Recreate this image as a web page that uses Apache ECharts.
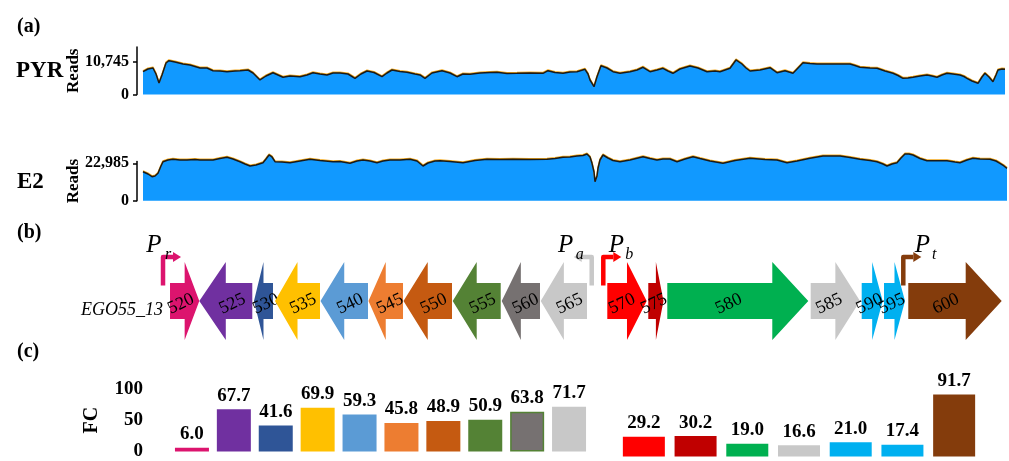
<!DOCTYPE html>
<html><head><meta charset="utf-8">
<script src="https://cdn.jsdelivr.net/npm/echarts@6/dist/echarts.min.js"></script>
<style>html,body{margin:0;padding:0;background:#fff}#c{width:1009px;height:461px}</style>
</head><body><div id="c"></div>
<script>
// ---------- DATA ----------
// (a) read coverage, position in bp along the locus
const pyrPos = [0,156,312,406,500,594,719,812,1000,1250,1469,1781,2000,2188,2406,2625,2875,3031,3281,3438,3656,3844,4062,4219,4375,4594,4906,5125,5312,5531,5750,5938,6156,6406,6625,6812,7000,7219,7469,7625,7781,8031,8250,8500,8656,8812,9031,9344,9594,9812,10000,10219,10531,10844,11062,11375,11688,12094,12500,12656,12875,13125,13344,13562,13812,13906,13969,14094,14188,14312,14500,14688,14906,15062,15219,15438,15625,15844,16062,16250,16406,16562,16781,17094,17344,17625,17875,18031,18188,18344,18531,18719,18844,18969,19281,19594,19812,20062,20312,20469,20625,20844,21062,21562,22094,22250,22406,22719,22938,23188,23438,23594,23750,23906,24062,24281,24500,24656,24812,24969,25125,25312,25531,25656,25750,25906,26094,26219,26312,26438,26562,26656,26719,26844,26938];
const pyrReads = [7538,8430,8761,6777,3802,6447,10414,11174,10745,10083,9753,8761,8761,7868,7769,7538,7769,7868,8100,7108,4794,6116,7207,6447,5686,6116,5885,6447,7207,6777,6447,7108,7108,6777,5356,6777,7769,7273,5885,7108,8100,7604,7339,6777,6447,5356,7108,7868,7108,5885,6777,6678,7108,7273,7339,6943,7009,7108,7009,7868,7273,7009,7439,7538,8331,6777,4794,2579,5885,9521,8761,7538,7009,7273,7538,8100,8992,7538,8100,8662,7769,7009,8430,9422,8761,7538,7769,7538,8100,8662,11406,10083,8761,7769,8100,8860,7207,7868,7009,8761,10513,10249,10083,10083,10083,9587,8992,8761,8662,7769,7009,6281,5356,5455,5686,6116,6447,6116,5686,6447,7009,6777,6447,5951,5356,4463,3703,5786,7009,5786,4232,6447,8100,8430,8331];
const e2Pos = [0,156,281,375,469,562,625,781,938,1156,1375,1625,1781,2000,2188,2406,2625,2812,3031,3188,3344,3531,3750,3844,3938,4031,4125,4344,4594,4906,5219,5531,5938,6156,6469,6688,6875,7094,7312,7500,7719,8031,8344,8562,8750,8906,9125,9281,9594,10000,10375,10750,11156,11562,12094,12625,12875,13125,13344,13562,13750,13875,13969,14031,14094,14125,14188,14219,14281,14375,14531,14688,14906,15219,15625,15844,16062,16250,16469,16688,16938,17188,17406,17719,18125,18500,18969,19438,19812,20125,20438,20844,21250,21781,22094,22406,22719,22938,23125,23250,23406,23562,23688,23812,23938,24062,24281,24500,24812,25125,25375,25531,25750,25938,26156,26469,26656,26781,26906,27000];
const e2Reads = [17823,16410,14750,15181,16840,21327,23969,25014,25444,25014,25014,25322,25014,25014,25014,25936,26674,25629,23969,22556,21327,21941,23355,25629,28087,26858,23969,23785,23355,24400,25444,24707,23969,24092,22985,24400,25014,24400,23355,24400,25014,25014,25444,24400,21327,23170,24400,24584,24092,23355,24707,25444,25322,25444,25322,25444,25936,26674,26858,27473,27780,28702,26858,22985,17639,11677,15181,19913,25014,28087,26243,24707,23969,25014,27042,25936,25014,25629,25629,23969,25629,27042,25936,24400,22985,24707,26059,25322,25014,23355,24400,26059,27473,27473,26551,25444,24707,23969,22556,21327,22556,23355,26243,28702,28702,28087,25936,24584,24584,24584,23785,23355,25014,26059,25629,25444,24400,22985,21327,19913];
const pyrTick = 10745;
const e2Tick = 22985;

// (b) gene map
const geneIds    = ['520','525','530','535','540','545','550','555','560','565','570','575','580','585','590','595','600'];
const geneStart  = [938,1853,3562,4219,5640,7140,8234,9772,11303,12522,14603,15884,16478,20959,22553,23250,24009];
const geneEnd    = [1853,3509,4156,5625,7125,8219,9750,11272,12500,13969,15834,16359,20884,22500,23209,23906,26928];
const geneStrand = [1,-1,-1,-1,-1,-1,-1,-1,-1,-1,1,1,1,1,1,1,1];
const locusName = 'EGO55_13';
const promoterSub = ['r','a','b','t'];
const promoterPos = [719,14116,14478,23853];
const promoterDir = [1,-1,1,1];

// (c) fold change
const fcLeftGenes  = ['520','525','530','535','540','545','550','555','560','565'];
const fcLeft       = [6.0,67.7,41.6,69.9,59.3,45.8,48.9,50.9,63.8,71.7];
const fcRightGenes = ['570','575','580','585','590','595','600'];
const fcRight      = [29.2,30.2,19.0,16.6,21.0,17.4,91.7];

// ---------- STYLE ----------
const GENE_COLORS = {
  '520':'#DC146E','525':'#7030A0','530':'#2F5597','535':'#FFC000','540':'#5B9BD5',
  '545':'#ED7D31','550':'#C55A11','555':'#548235','560':'#767171','565':'#C8C8C8',
  '570':'#FF0000','575':'#C00000','580':'#00B050','585':'#C8C8C8','590':'#00B0F0',
  '595':'#00B0F0','600':'#843C0C'
};
const BAR_BORDER = {'560':'#548235'};
const PROMOTER_COLORS = ['#DC146E','#C8C8C8','#FF0000','#843C0C'];
const PROMOTER_LABEL_DX = [[-9,5],[-26,-12],[13,26],[19,31]];
const SERIF = '"Liberation Serif","Times New Roman",serif';
const AREA_BLUE = '#1199FF';

const chart = echarts.init(document.getElementById('c'), null, {renderer:'canvas'});

function covAxis(gridIndex, max, tick) {
  return {
    gridIndex, type:'value', min:0, max:max, interval:tick, offset:6, z:10,
    axisLine:{show:true, onZero:false, lineStyle:{color:'#000', width:1.5}},
    axisTick:{show:true, length:4, lineStyle:{color:'#000', width:1.5}},
    splitLine:{show:false},
    axisLabel:{show:true, showMaxLabel:false, margin:8, color:'#000',
      fontFamily:SERIF, fontWeight:'bold', fontSize:16,
      formatter: v => v === 0 ? '0' : Number(v).toLocaleString('en-US')},
    name:'Reads', nameLocation:'middle', nameGap:55, nameRotate:90, nameMoveOverlap:false,
    nameTextStyle:{color:'#000', fontFamily:SERIF, fontWeight:'bold', fontSize:17}
  };
}
function covSeries(idx, pos, reads) {
  return {
    type:'line', xAxisIndex:idx, yAxisIndex:idx, clip:false,
    data: pos.map((p,i)=>[p, reads[i]]),
    showSymbol:false, symbol:'none', silent:true,
    lineStyle:{color:'#1a1a1a', width:1.5, shadowColor:'#F2A81D', shadowOffsetY:-0.8, shadowBlur:0},
    areaStyle:{color:AREA_BLUE, opacity:1}
  };
}

const geneData = geneIds.map((id,i)=>[geneStart[i], geneEnd[i], geneStrand[i], i]);
const promoterData = promoterPos.map((p,i)=>[p, promoterDir[i], i]);

const option = {
  animation:false,
  backgroundColor:'#fff',
  grid:[
    {left:143, width:864, top:47, height:47.5},
    {left:143, width:864, top:161.5, height:39.2},
    {left:140, width:864, top:262, height:78},
    {left:171, width:419, top:389, height:67.5},
    {left:618, width:362, top:389, height:67.5}
  ],
  xAxis:[
    {gridIndex:0, type:'value', min:0, max:27000, show:false},
    {gridIndex:1, type:'value', min:0, max:27000, show:false},
    {gridIndex:2, type:'value', min:0, max:27000, show:false},
    {gridIndex:3, type:'category', data:fcLeftGenes, show:false},
    {gridIndex:4, type:'category', data:fcRightGenes, show:false}
  ],
  yAxis:[
    covAxis(0, 15703, pyrTick),
    covAxis(1, 24090, e2Tick),
    {gridIndex:2, type:'value', min:-1, max:1, show:false},
    {gridIndex:3, type:'value', min:0, max:100, interval:50,
      axisLine:{show:false}, axisTick:{show:false}, splitLine:{show:false},
      axisLabel:{margin:28, color:'#000', fontFamily:SERIF, fontWeight:'bold', fontSize:19},
      name:'FC', nameLocation:'middle', nameGap:69, nameRotate:90,
      nameTextStyle:{color:'#000', fontFamily:SERIF, fontWeight:'bold', fontSize:20}},
    {gridIndex:4, type:'value', min:0, max:100, interval:50, show:false}
  ],
  graphic:[
    {type:'text', left:17, top:17, style:{text:'(a)', font:'bold 20px '+SERIF, fill:'#000'}},
    {type:'text', left:17, top:223, style:{text:'(b)', font:'bold 20px '+SERIF, fill:'#000'}},
    {type:'text', left:17, top:342, style:{text:'(c)', font:'bold 20px '+SERIF, fill:'#000'}},
    {type:'text', left:16, top:60, style:{text:'PYR', font:'bold 23px '+SERIF, fill:'#000'}},
    {type:'text', left:17, top:171, style:{text:'E2', font:'bold 23px '+SERIF, fill:'#000'}},
    {type:'text', right:1009-163, top:301, style:{text:locusName, font:'italic 18px '+SERIF, fill:'#000'}}
  ],
  series:[
    covSeries(0, pyrPos, pyrReads),
    covSeries(1, e2Pos, e2Reads),
    {
      type:'custom', xAxisIndex:2, yAxisIndex:2, clip:false, silent:true,
      data: geneData,
      renderItem:(params, api)=>{
        const s = api.coord([api.value(0), 0]);
        const e = api.coord([api.value(1), 0]);
        const dir = api.value(2);
        const id = geneIds[api.value(3)];
        const cy = s[1];
        const len = e[0]-s[0];
        const head = Math.min(36, len*0.5);
        const bh = 18, hh = 39;
        let pts, bodyC;
        if (dir > 0) {
          const hb = e[0]-head;
          pts = [[s[0],cy-bh],[hb,cy-bh],[hb,cy-hh],[e[0],cy],[hb,cy+hh],[hb,cy+bh],[s[0],cy+bh]];
          bodyC = (s[0]+hb)/2;
        } else {
          const hb = s[0]+head;
          pts = [[e[0],cy-bh],[hb,cy-bh],[hb,cy-hh],[s[0],cy],[hb,cy+hh],[hb,cy+bh],[e[0],cy+bh]];
          bodyC = (hb+e[0])/2;
        }
        const lx = (bodyC + (s[0]+e[0])/2)/2;
        return {type:'group', children:[
          {type:'polygon', shape:{points:pts}, style:{fill:GENE_COLORS[id]}},
          {type:'text', x:lx, y:cy+3, rotation:0.44,
            style:{text:id, font:'18px '+SERIF, fill:'#000', align:'center', verticalAlign:'middle'}}
        ]};
      }
    },
    {
      type:'custom', xAxisIndex:2, yAxisIndex:2, clip:false, silent:true,
      data: promoterData,
      renderItem:(params, api)=>{
        const p = api.coord([api.value(0), 0]);
        const dir = api.value(1);
        const i = api.value(2);
        const x = p[0], cy = p[1];
        const yb = cy-15.5, yt = cy-44;
        const hx = x + dir*10;
        const col = PROMOTER_COLORS[i];
        const dx = PROMOTER_LABEL_DX[i];
        return {type:'group', children:[
          {type:'polyline', shape:{points:[[x,yb],[x,yt],[hx,yt]]},
            style:{stroke:col, lineWidth:4.5, fill:null, lineJoin:'round'}},
          {type:'polygon', shape:{points:[[hx,yt-5],[hx+dir*8,yt],[hx,yt+5]]}, style:{fill:col}},
          {type:'text', x:x+dx[0], y:cy-56, style:{text:'P', font:'italic 25px '+SERIF, fill:'#000', align:'center', verticalAlign:'middle'}},
          {type:'text', x:x+dx[1], y:cy-46, style:{text:promoterSub[i], font:'italic 16px '+SERIF, fill:'#000', align:'center', verticalAlign:'middle'}}
        ]};
      }
    },
    {
      type:'bar', xAxisIndex:3, yAxisIndex:3, barWidth:34, silent:true,
      data: fcLeft.map((v,i)=>({value:v, itemStyle:{color:GENE_COLORS[fcLeftGenes[i]],
        borderColor:BAR_BORDER[fcLeftGenes[i]]||null, borderWidth:BAR_BORDER[fcLeftGenes[i]]?1.5:0}})),
      label:{show:true, position:'top', distance:4, color:'#000', fontFamily:SERIF, fontWeight:'bold', fontSize:19,
        formatter:p=>Number(p.value).toFixed(1)}
    },
    {
      type:'bar', xAxisIndex:4, yAxisIndex:4, barWidth:42, silent:true,
      data: fcRight.map((v,i)=>({value:v, itemStyle:{color:GENE_COLORS[fcRightGenes[i]]}})),
      label:{show:true, position:'top', distance:4, color:'#000', fontFamily:SERIF, fontWeight:'bold', fontSize:19,
        formatter:p=>Number(p.value).toFixed(1)}
    }
  ]
};
chart.setOption(option);
</script></body></html>
